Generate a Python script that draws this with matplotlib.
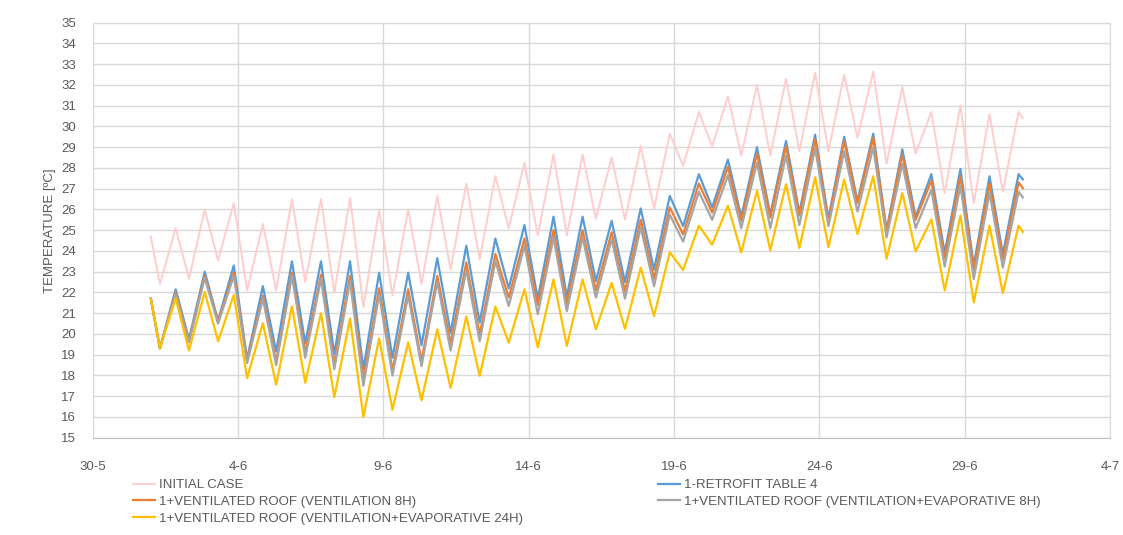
import datetime as dt
import matplotlib
matplotlib.use("Agg")
import matplotlib.pyplot as plt
import matplotlib.dates as mdates
from matplotlib.ticker import FixedLocator

# ---------------- data ----------------
year = 2019
june_days = list(range(1, 31))
hour_of_min = 7.5
hour_of_max = 20.5

series_names = [
    "INITIAL CASE",
    "1-RETROFIT TABLE 4",
    "1+VENTILATED ROOF (VENTILATION 8H)",
    "1+VENTILATED ROOF (VENTILATION+EVAPORATIVE 8H)",
    "1+VENTILATED ROOF (VENTILATION+EVAPORATIVE 24H)",
]

start_values = [24.7, 21.7, 21.7, 21.7, 21.7]
end_values = [30.4, 27.45, 27.03, 26.58, 24.92]

pink_min = [22.4, 22.65, 23.55, 22.1, 22.1, 22.5, 22.0, 21.3, 21.85, 22.4,
            23.1, 23.6, 25.1, 24.75, 24.75, 25.55, 25.5, 26.05, 28.1, 29.05,
            28.6, 28.6, 28.8, 28.8, 29.45, 28.2, 28.7, 26.8, 26.3, 26.85]
pink_max = [25.1, 26.0, 26.3, 25.3, 26.5, 26.5, 26.55, 26.0, 26.0, 26.65,
            27.25, 27.6, 28.25, 28.65, 28.65, 28.5, 29.05, 29.65, 30.7, 31.45,
            32.0, 32.3, 32.6, 32.5, 32.65, 31.9, 30.7, 31.0, 30.6, 30.7]

blue_min = [19.3, 19.75, 20.65, 18.8, 19.15, 19.55, 19.05, 18.3, 18.85, 19.45,
            20.05, 20.55, 22.2, 21.7, 21.8, 22.55, 22.5, 23.1, 25.2, 26.1,
            25.65, 25.75, 25.85, 25.55, 26.4, 25.0, 25.65, 23.9, 23.3, 23.85]
blue_max = [22.15, 23.0, 23.3, 22.3, 23.5, 23.5, 23.5, 22.95, 22.95, 23.65,
            24.25, 24.6, 25.25, 25.65, 25.65, 25.45, 26.05, 26.65, 27.7, 28.4,
            29.0, 29.3, 29.6, 29.5, 29.65, 28.9, 27.7, 27.95, 27.6, 27.7]

orange_min = [19.3, 19.65, 20.6, 18.7, 18.65, 19.1, 18.55, 17.8, 18.25, 18.7,
              19.55, 19.95, 21.75, 21.4, 21.45, 22.1, 22.05, 22.65, 24.8, 25.85,
              25.45, 25.6, 25.7, 25.4, 26.3, 24.95, 25.5, 23.65, 23.1, 23.6]
orange_max = [22.0, 22.8, 22.95, 21.85, 22.95, 22.85, 22.8, 22.2, 22.15, 22.8,
              23.45, 23.85, 24.6, 25.0, 25.0, 24.9, 25.5, 26.1, 27.25, 28.05,
              28.7, 29.05, 29.4, 29.3, 29.45, 28.65, 27.4, 27.6, 27.25, 27.3]

gray_min = [19.3, 19.6, 20.5, 18.6, 18.5, 18.85, 18.3, 17.5, 18.0, 18.45,
            19.2, 19.65, 21.35, 20.95, 21.1, 21.75, 21.7, 22.3, 24.45, 25.5,
            25.1, 25.1, 25.25, 25.2, 25.9, 24.65, 25.1, 23.25, 22.65, 23.2]
gray_max = [21.95, 22.7, 22.8, 21.7, 22.8, 22.65, 22.55, 21.9, 21.85, 22.5,
            23.1, 23.5, 24.25, 24.65, 24.65, 24.55, 25.15, 25.75, 26.85, 27.65,
            28.25, 28.6, 28.95, 28.8, 29.0, 28.2, 26.95, 27.15, 26.8, 26.85]

yellow_min = [19.3, 19.2, 19.65, 17.87, 17.55, 17.65, 16.95, 16.0, 16.35, 16.8,
              17.4, 17.98, 19.58, 19.36, 19.42, 20.22, 20.24, 20.86, 23.08, 24.3,
              23.93, 24.03, 24.14, 24.18, 24.82, 23.62, 23.98, 22.1, 21.52, 21.97]
yellow_max = [21.72, 22.02, 21.88, 20.52, 21.33, 21.0, 20.74, 19.78, 19.6, 20.22,
              20.84, 21.32, 22.15, 22.63, 22.63, 22.46, 23.2, 23.94, 25.22, 26.18,
              26.9, 27.22, 27.55, 27.44, 27.6, 26.8, 25.52, 25.7, 25.22, 25.22]

x_tick_dates = [(5, 30), (6, 4), (6, 9), (6, 14), (6, 19), (6, 24), (6, 29), (7, 4)]
x_tick_labels = ["30-5", "4-6", "9-6", "14-6", "19-6", "24-6", "29-6", "4-7"]
y_ticks = list(range(15, 36))

# ---------------- styling ----------------
colors = ["#FFCDCD", "#5B9BD5", "#ED7D31", "#A5A5A5", "#FFC000"]
widths = [1.4, 1.6, 1.6, 1.6, 1.6]
text_color = "#595959"
grid_color = "#D9D9D9"

plt.rcParams["font.family"] = ["Liberation Sans Narrow", "Liberation Sans", "DejaVu Sans"]

# ---------------- build series ----------------
mins = [pink_min, blue_min, orange_min, gray_min, yellow_min]
maxs = [pink_max, blue_max, orange_max, gray_max, yellow_max]

times = [dt.datetime(year, 6, 1, 0, 0)]
for d in june_days:
    times.append(dt.datetime(year, 6, d) + dt.timedelta(hours=hour_of_min))
    times.append(dt.datetime(year, 6, d) + dt.timedelta(hours=hour_of_max))
times.append(dt.datetime(year, 7, 1, 0, 0))

fig = plt.figure(figsize=(11.23, 5.35), dpi=100)
ax = fig.add_axes([92.7 / 1123, (535 - 437.7) / 535,
                   (1110 - 92.7) / 1123, (437.7 - 22.7) / 535])

handles = []
for name, c, w, s0, lo, hi, s1 in zip(series_names, colors, widths, start_values,
                                      mins, maxs, end_values):
    vals = [s0]
    for a, b in zip(lo, hi):
        vals += [a, b]
    vals.append(s1)
    h, = ax.plot(times, vals, color=c, lw=w, solid_joinstyle="round", label=name)
    handles.append(h)

tick_dates = [mdates.date2num(dt.datetime(year, m, d)) for m, d in x_tick_dates]
ax.set_xlim(tick_dates[0], tick_dates[-1])
ax.xaxis.set_major_locator(FixedLocator(tick_dates))
ax.set_xticklabels(x_tick_labels)
ax.set_ylim(15, 35)
ax.set_yticks(y_ticks)

ax.grid(True, color=grid_color, lw=1.0)
ax.set_axisbelow(True)
for side in ["left", "top", "right"]:
    ax.spines[side].set_color(grid_color)
ax.spines["bottom"].set_color("#BFBFBF")
ax.tick_params(axis="both", length=0, colors=text_color, labelsize=9.5)
ax.tick_params(axis="x", pad=17)
ax.tick_params(axis="y", pad=12)

ax.set_ylabel("TEMPERATURE [ºC]", color=text_color, fontsize=9.5, labelpad=4)

leg_kw = dict(frameon=False, fontsize=9.5, handlelength=1.7, handletextpad=0.3,
              labelspacing=0.35, borderaxespad=0, borderpad=0, labelcolor=text_color)
leg1 = fig.legend([handles[0], handles[2], handles[4]],
                  [series_names[0], series_names[2], series_names[4]],
                  loc="upper left", bbox_to_anchor=(133 / 1123, 1 - 479 / 535), **leg_kw)
leg2 = fig.legend([handles[1], handles[3]],
                  [series_names[1], series_names[3]],
                  loc="upper left", bbox_to_anchor=(658 / 1123, 1 - 479 / 535), **leg_kw)

fig.savefig("out.png", dpi=100)
